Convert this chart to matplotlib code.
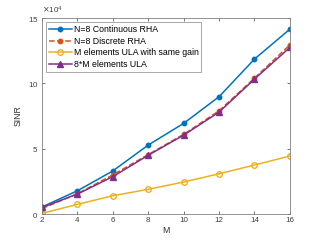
import numpy as np
import matplotlib
matplotlib.use('Agg')
import matplotlib.pyplot as plt
from matplotlib.ticker import ScalarFormatter

# Data (SINR values in units of 1e4)
M = [2, 4, 6, 8, 10, 12, 14, 16]
cont_rha = [0.54, 1.78, 3.3, 5.28, 6.94, 8.98, 11.86, 14.15]
disc_rha = [0.42, 1.55, 3.0, 4.55, 6.1, 7.9, 10.4, 12.95]
ula_same_gain = [0.05, 0.74, 1.4, 1.89, 2.45, 3.08, 3.75, 4.44]
ula_8m = [0.5, 1.53, 2.86, 4.5, 6.04, 7.8, 10.33, 12.75]

labels = ['N=8 Continuous RHA', 'N=8 Discrete RHA',
          'M elements ULA with same gain', '8*M elements ULA']

plt.rcParams['font.family'] = ['Liberation Sans', 'DejaVu Sans']

fig = plt.figure(figsize=(3.21, 2.41), dpi=100)
ax = fig.add_axes([0.131, 0.112, 0.772, 0.813])

scale = 1e4
ax.plot(M, np.array(cont_rha) * scale, '-o', color='#0072BD', lw=1.1,
        ms=3.2, label=labels[0])
ax.plot(M, np.array(disc_rha) * scale, '--o', color='#D95319', lw=1.1,
        ms=3.2, label=labels[1])
ax.plot(M, np.array(ula_same_gain) * scale, '-o', color='#EDB120', lw=1.1,
        ms=4, mfc='none', mew=1.0, label=labels[2])
ax.plot(M, np.array(ula_8m) * scale, '-^', color='#7E2F8E', lw=1.1,
        ms=4.5, label=labels[3])

ax.set_xlim(2, 16)
ax.set_ylim(0, 15e4)
ax.set_xticks([2, 4, 6, 8, 10, 12, 14, 16])
ax.set_yticks([0, 5e4, 10e4, 15e4])

fmt = ScalarFormatter(useMathText=True)
fmt.set_powerlimits((4, 4))
ax.yaxis.set_major_formatter(fmt)
ax.yaxis.get_offset_text().set_fontsize(5.8)
ax.yaxis.get_offset_text().set_color('#404040')

ax.tick_params(direction='in', length=2.5, width=0.5, labelsize=5.8,
               colors='#404040', top=True, right=True, pad=2.5)
for s in ax.spines.values():
    s.set_color('#808080')
    s.set_linewidth(0.6)

ax.set_xlabel('M', fontsize=6.3, color='#303030', labelpad=1)
ax.set_ylabel('SINR', fontsize=6.3, color='#303030', labelpad=4)

leg = ax.legend(loc='upper left', fontsize=6.3, frameon=True, fancybox=False,
                borderpad=0.3, labelspacing=0.3, handlelength=2.6,
                handletextpad=0.2, borderaxespad=0.5)
leg.get_frame().set_edgecolor('#808080')
leg.get_frame().set_linewidth(0.6)

plt.savefig('out.png', dpi=100)
plt.close()
